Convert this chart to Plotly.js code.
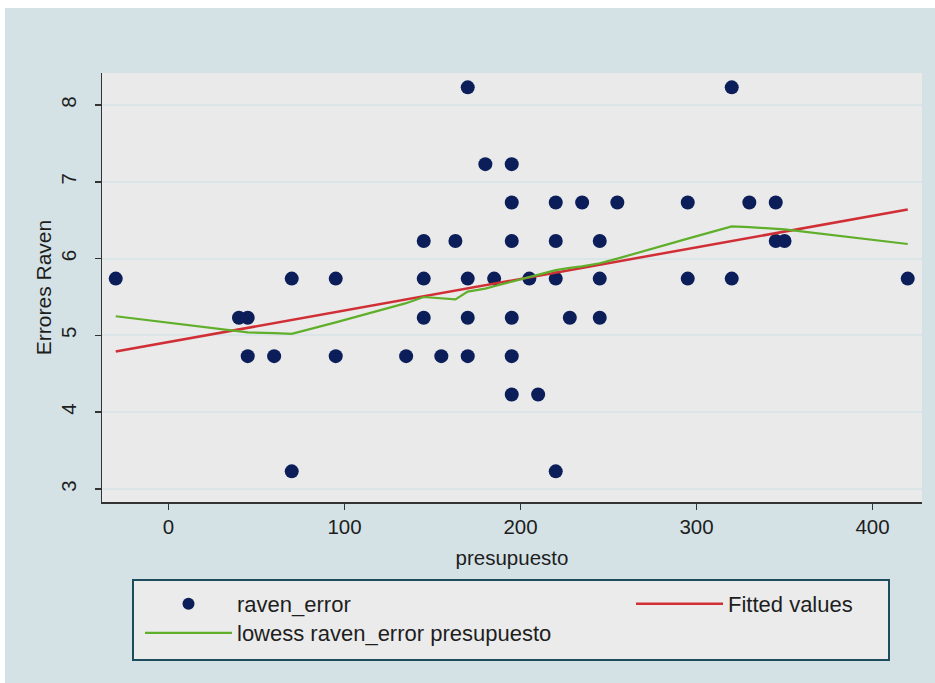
<!DOCTYPE html>
<html>
<head>
<meta charset="utf-8">
<script src="https://cdn.plot.ly/plotly-3.0.1.min.js"></script>
<style>html,body{margin:0;padding:0;background:#fff;}#chart{width:935px;height:683px;}</style>
</head>
<body>
<div id="chart"></div>
<script>
// Scatter data: presupuesto (x) vs raven_error (y)
const presupuesto = [-30, 70, 95, 40, 45, 45, 60, 95, 70,
  170, 180, 195, 195, 220, 235, 255,
  145, 163, 195, 220, 245,
  145, 170, 185, 205, 220, 245,
  145, 170, 195, 228, 245,
  135, 155, 170, 195,
  195, 210, 220,
  320, 295, 330, 345, 345, 350, 295, 320, 420];
const raven_error = [5.74, 5.74, 5.74, 5.23, 5.23, 4.73, 4.73, 4.73, 3.23,
  8.23, 7.23, 7.23, 6.73, 6.73, 6.73, 6.73,
  6.23, 6.23, 6.23, 6.23, 6.23,
  5.74, 5.74, 5.74, 5.74, 5.74, 5.74,
  5.23, 5.23, 5.23, 5.23, 5.23,
  4.73, 4.73, 4.73, 4.73,
  4.23, 4.23, 3.23,
  8.23, 6.73, 6.73, 6.73, 6.23, 6.23, 5.74, 5.74, 5.74];

// Linear fit (Fitted values)
const fit_x = [-30, 420];
const fit_y = [4.79, 6.64];

// Lowess smooth
const lowess_x = [-30, 40, 45, 60, 70, 95, 135, 145, 155, 163, 170, 180, 185, 195, 205, 210, 220, 228, 235, 245, 255, 295, 320, 330, 345, 350, 420];
const lowess_y = [5.25, 5.05, 5.04, 5.03, 5.02, 5.17, 5.42, 5.50, 5.48, 5.47, 5.57, 5.61, 5.64, 5.70, 5.76, 5.79, 5.85, 5.88, 5.90, 5.94, 6.00, 6.26, 6.42, 6.41, 6.39, 6.38, 6.19];

const xTicks = [0, 100, 200, 300, 400];
const yTicks = [3, 4, 5, 6, 7, 8];

const FONT = 'Liberation Sans, Arial, sans-serif';
const TXT = '#1e1e1e';

const traces = [
  {type: 'scatter', mode: 'markers', x: presupuesto, y: raven_error, name: 'raven_error',
   marker: {color: '#0c1e5a', size: 14}, legend: 'legend', hoverinfo: 'x+y'},
  {type: 'scatter', mode: 'lines', x: fit_x, y: fit_y, name: 'Fitted values',
   line: {color: '#d12f36', width: 2.5}, legend: 'legend2'},
  {type: 'scatter', mode: 'lines', x: lowess_x, y: lowess_y, name: 'lowess raven_error presupuesto',
   line: {color: '#5faf2a', width: 2.2}, legend: 'legend3'}
];

function leg(xpx, ypx, extra) {
  return Object.assign({
    x: (xpx - 102) / 820, y: (502 - ypx) / 429, xanchor: 'left', yanchor: 'middle',
    bgcolor: 'rgba(0,0,0,0)', borderwidth: 0, itemwidth: 87,
    font: {size: 22, family: FONT, color: TXT}, orientation: 'v'
  }, extra || {});
}

const layout = {
  width: 935, height: 683,
  margin: {l: 102, r: 13, t: 73, b: 181, autoexpand: false},
  paper_bgcolor: '#d4e2e6',
  plot_bgcolor: '#eaeaea',
  font: {family: FONT, color: TXT, size: 20},
  showlegend: true,
  xaxis: {
    range: [-37.8, 428.1], tickvals: xTicks, ticktext: xTicks.map(String),
    showgrid: false, zeroline: false, showline: true, linecolor: '#333', linewidth: 1.5,
    ticks: 'outside', ticklen: 6, tickwidth: 1.5, tickcolor: '#333',
    tickfont: {size: 20.5, family: FONT, color: TXT},
    title: {text: 'presupuesto', font: {size: 20.5, family: FONT, color: TXT}, standoff: 13}
  },
  yaxis: {
    range: [2.831, 8.417], tickvals: yTicks, ticktext: yTicks.map(String),
    showgrid: true, gridcolor: '#dbe4e6', gridwidth: 2,
    zeroline: false, showline: true, linecolor: '#333', linewidth: 1.5,
    ticks: 'outside', ticklen: 6, tickwidth: 1.5, tickcolor: '#333', tickangle: -90,
    ticklabelstandoff: 10,
    tickfont: {size: 20.5, family: FONT, color: TXT},
    title: {text: 'Errores Raven', font: {size: 21, family: FONT, color: TXT}, standoff: 0}
  },
  legend: leg(140, 604, {itemsizing: 'constant'}),
  legend2: leg(631, 604),
  legend3: leg(140, 633),
  shapes: [
    // white strips at top and left edge of the image
    {type: 'rect', xref: 'paper', yref: 'paper', x0: -102/820, x1: 833/820, y0: (502-8)/429, y1: 502/429,
     fillcolor: '#ffffff', line: {width: 0}, layer: 'below'},
    {type: 'rect', xref: 'paper', yref: 'paper', x0: -102/820, x1: -97/820, y0: -181/429, y1: 502/429,
     fillcolor: '#ffffff', line: {width: 0}, layer: 'below'},
    // legend box
    {type: 'rect', xref: 'paper', yref: 'paper', x0: (133-102)/820, x1: (889-102)/820,
     y0: (502-660)/429, y1: (502-580)/429,
     fillcolor: '#ebebeb', line: {color: '#1d4c5c', width: 2}, layer: 'below'}
  ]
};

Plotly.newPlot('chart', traces, layout, {displayModeBar: false, staticPlot: true});
</script>
</body>
</html>
